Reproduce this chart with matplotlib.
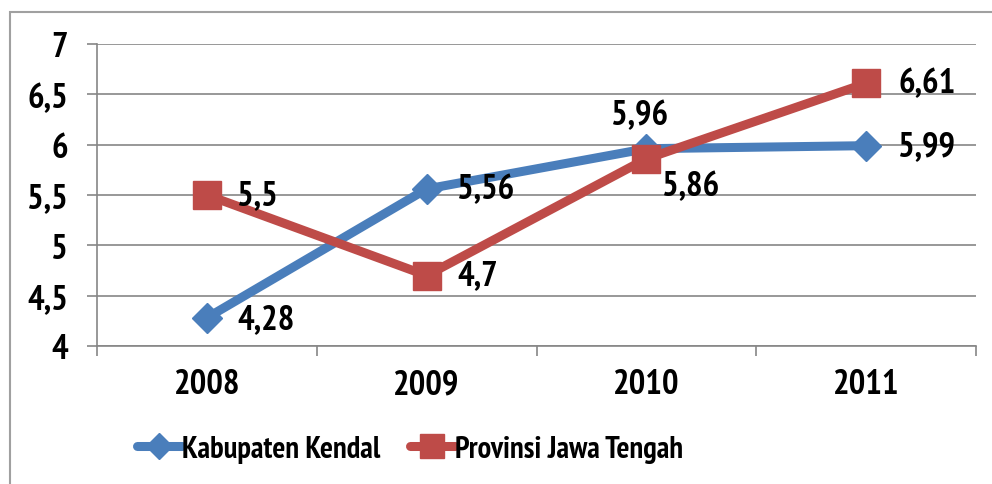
import matplotlib
matplotlib.use("Agg")
import matplotlib.pyplot as plt
from matplotlib.patches import Rectangle

years = ["2008", "2009", "2010", "2011"]
kendal = [4.28, 5.56, 5.96, 5.99]
jateng = [5.5, 4.7, 5.86, 6.61]
yticks = [4, 4.5, 5, 5.5, 6, 6.5, 7]
ytick_labels = ["4", "4,5", "5", "5,5", "6", "6,5", "7"]
series_names = ["Kabupaten Kendal", "Provinsi Jawa Tengah"]

plt.rcParams['font.family'] = ["PT Sans Narrow", "DejaVu Sans"]
plt.rcParams['font.weight'] = 'bold'

W, H = 992, 485
fig = plt.figure(figsize=(W/100, H/100), dpi=100)
ax = fig.add_axes([97/W, 1-347/H, (976-97)/W, (347-45)/H])

blue = "#4a7ebb"
red = "#be4b48"
x = list(range(len(years)))
ax.plot(x, kendal, color=blue, lw=6.5, marker="D", ms=15, mec=blue, solid_capstyle="round",
        label=series_names[0], zorder=3)
ax.plot(x, jateng, color=red, lw=6.5, marker="s", ms=20, mec=red, solid_capstyle="round",
        label=series_names[1], zorder=4)

ax.set_xlim(-0.5, 3.5)
ax.set_ylim(4, 7)
ax.set_yticks(yticks)
ax.set_yticklabels(ytick_labels)
ax.set_xticks(x)
ax.set_xticklabels(years)
ax.set_xticks([-0.5, 0.5, 1.5, 2.5, 3.5], minor=True)
fs = 25
ax.tick_params(axis='x', which='major', length=0, pad=16, labelsize=fs)
ax.tick_params(axis='x', which='minor', length=7, color="#868686", width=1.2)
ax.tick_params(axis='y', length=7, color="#868686", width=1.2, pad=14, labelsize=fs)
ax.grid(axis='y', color="#868686", lw=1.2)
ax.set_axisbelow(True)
for s in ["top", "right"]:
    ax.spines[s].set_visible(False)
for s in ["left", "bottom"]:
    ax.spines[s].set_color("#868686")
    ax.spines[s].set_linewidth(1.2)

def fmt(v):
    return ("%g" % v).replace(".", ",")

offs_k = [(22, -1, 'left', 'center'), (22, 0, 'left', 'center'), (-5, 24, 'center', 'center'), (23, 0, 'left', 'center')]
for xi, v, (dx, dy, ha, va) in zip(x, kendal, offs_k):
    ax.annotate(fmt(v), (xi, v), xytext=(dx, dy), textcoords="offset points", ha=ha, va=va,
                fontsize=fs, fontweight='bold', zorder=5)
offs_j = [(22, 0, 'left', 'center'), (22, 0, 'left', 'center'), (11.5, -20, 'left', 'center'), (23, 0, 'left', 'center')]
for xi, v, (dx, dy, ha, va) in zip(x, jateng, offs_j):
    ax.annotate(fmt(v), (xi, v), xytext=(dx, dy), textcoords="offset points", ha=ha, va=va,
                fontsize=fs, fontweight='bold', zorder=5)

leg = fig.legend(loc="center", bbox_to_anchor=(410/W, 1-450/H), ncol=2, frameon=False,
                 fontsize=22, handlelength=1.45, handletextpad=0.0, columnspacing=1.0,
                 markerscale=0.85)

fig.patches.append(Rectangle((10/W, -0.05), 1.2, 1.05-13/H, transform=fig.transFigure,
                             fill=False, edgecolor="#a0a0a0", lw=1.5, figure=fig))

fig.savefig("out.png", dpi=100)
